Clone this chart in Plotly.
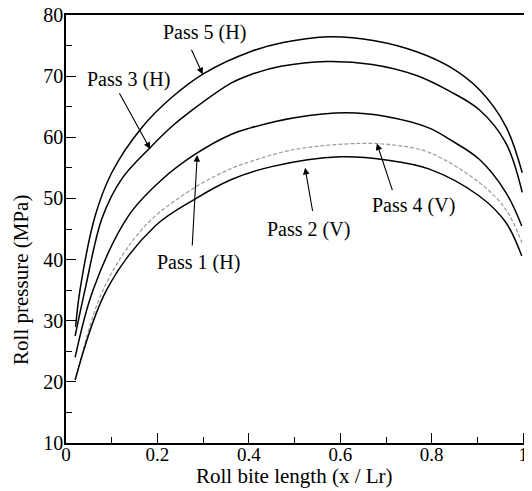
import plotly.graph_objects as go

# ---- data ----
pass5_x = [0.021, 0.031, 0.064, 0.10, 0.166, 0.231, 0.303, 0.403, 0.475, 0.576, 0.675, 0.767, 0.84, 0.904, 0.962, 0.998]
pass5_y = [29.0, 35.2, 47.2, 54.2, 61.6, 66.5, 70.5, 74.0, 75.5, 76.45, 75.8, 74.0, 71.5, 67.8, 61.8, 54.2]

pass3_x = [0.02, 0.042, 0.079, 0.122, 0.184, 0.232, 0.268, 0.362, 0.402, 0.47, 0.57, 0.67, 0.767, 0.84, 0.904, 0.962, 0.998]
pass3_y = [27.5, 35.2, 46.8, 53.2, 58.3, 61.8, 64.0, 68.9, 70.2, 71.6, 72.4, 71.9, 70.1, 67.5, 64.5, 59.1, 51.0]

pass1_x = [0.02, 0.06, 0.137, 0.21, 0.282, 0.362, 0.402, 0.5, 0.614, 0.7, 0.795, 0.84, 0.904, 0.962, 0.997]
pass1_y = [24.0, 35.2, 47.2, 53.1, 57.2, 60.5, 61.5, 63.2, 64.0, 63.4, 61.5, 59.6, 56.4, 51.0, 45.5]

pass4_x = [0.025, 0.082, 0.173, 0.282, 0.362, 0.402, 0.5, 0.643, 0.72, 0.795, 0.904, 0.962, 0.997]
pass4_y = [21.5, 35.2, 45.5, 51.8, 54.9, 56.0, 58.0, 59.0, 58.7, 57.5, 52.6, 48.2, 42.8]

pass2_x = [0.02, 0.09, 0.195, 0.282, 0.362, 0.45, 0.6, 0.7, 0.795, 0.904, 0.962, 0.997]
pass2_y = [20.3, 35.2, 45.5, 49.9, 53.1, 55.2, 56.8, 56.3, 54.8, 50.4, 46.1, 40.6]

labels = ["Pass 5 (H)", "Pass 3 (H)", "Pass 1 (H)", "Pass 2 (V)", "Pass 4 (V)"]
label_pos = [(0.304, 77.1), (0.137, 69.4), (0.29, 39.5), (0.531, 45.0), (0.761, 48.9)]
arrow_tail = [(0.273, 74.55), (0.115, 67.45), (0.276, 42.05), (0.54, 47.7), (0.715, 51.1)]
arrow_head = [(0.299, 70.3), (0.184, 58.1), (0.287, 57.1), (0.523, 55.0), (0.68, 59.0)]

x_ticks = [0, 0.2, 0.4, 0.6, 0.8, 1]
x_ticktext = ["0", "0.2", "0.4", "0.6", "0.8", "1"]
y_ticks = [10, 20, 30, 40, 50, 60, 70, 80]

x_title = "Roll bite length (x / Lr)"
y_title = "Roll pressure (MPa)"

FONT = "Liberation Serif"

fig = go.Figure()
series = [
    (pass5_x, pass5_y, "Pass 5 (H)", dict(color="black", width=1.5)),
    (pass3_x, pass3_y, "Pass 3 (H)", dict(color="black", width=1.5)),
    (pass1_x, pass1_y, "Pass 1 (H)", dict(color="black", width=1.5)),
    (pass4_x, pass4_y, "Pass 4 (V)", dict(color="#9a9a9a", width=1.2, dash="4px,2px")),
    (pass2_x, pass2_y, "Pass 2 (V)", dict(color="black", width=1.5)),
]
for xs, ys, nm, ln in series:
    fig.add_trace(go.Scatter(x=xs, y=ys, mode="lines", name=nm,
                             line=dict(shape="spline", smoothing=1.0, **ln)))

annotations = []
for txt, (tx, ty) in zip(labels, label_pos):
    annotations.append(dict(x=tx, y=ty, xref="x", yref="y", text=txt, showarrow=False,
                            xanchor="center", yanchor="middle",
                            font=dict(family=FONT, size=20, color="black")))
for (hx, hy), (tx, ty) in zip(arrow_head, arrow_tail):
    annotations.append(dict(x=hx, y=hy, ax=tx, ay=ty, xref="x", yref="y",
                            axref="x", ayref="y", text="", showarrow=True,
                            arrowhead=2, arrowsize=1.2, arrowwidth=1.1,
                            arrowcolor="black", standoff=0, startstandoff=0))
# axis titles
annotations.append(dict(x=0.4935, y=-0.076, xref="paper", yref="paper", text=x_title,
                        showarrow=False, xanchor="center", yanchor="middle",
                        font=dict(family=FONT, size=21, color="black")))
annotations.append(dict(x=-0.097, y=0.381, xref="paper", yref="paper", text=y_title,
                        showarrow=False, xanchor="center", yanchor="middle", textangle=-90,
                        font=dict(family=FONT, size=21, color="black")))

# page body has an 8px default margin: size the figure to fill the rest of the window
fig.update_layout(
    width=524, height=483,
    margin=dict(l=58, r=2, t=7, b=48),
    paper_bgcolor="white", plot_bgcolor="white",
    showlegend=False,
    font=dict(family=FONT, size=18, color="black"),
    annotations=annotations,
)
fig.update_xaxes(
    range=[0, 1.015], tickvals=x_ticks, ticktext=x_ticktext,
    ticks="inside", ticklen=10, tickwidth=1, tickcolor="black",
    minor=dict(dtick=0.1, tick0=0, ticks="inside", ticklen=6, tickcolor="black", tickwidth=1),
    showline=True, linecolor="black", linewidth=1.5, mirror=True,
    showgrid=False, zeroline=False, automargin=False, ticklabeloverflow="allow",
    ticklabelstandoff=-7,
    tickfont=dict(family=FONT, size=19),
)
fig.update_yaxes(
    range=[10, 80], tickvals=y_ticks,
    ticks="inside", ticklen=10, tickwidth=1, tickcolor="black",
    minor=dict(dtick=5, tick0=10, ticks="inside", ticklen=6, tickcolor="black", tickwidth=1),
    showline=True, linecolor="black", linewidth=1.5, mirror=True,
    showgrid=False, zeroline=False, automargin=False, ticklabeloverflow="allow",
    ticklabelstandoff=-3,
    tickfont=dict(family=FONT, size=20),
)

fig.write_html("out.html")
